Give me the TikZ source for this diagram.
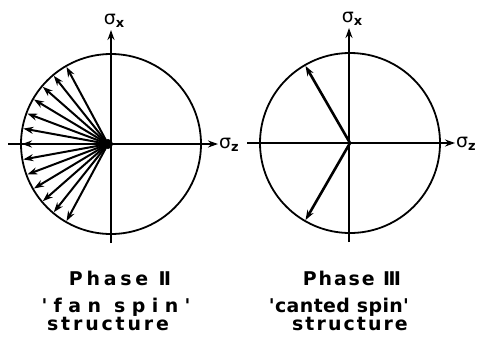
\documentclass[tikz,border=0pt]{standalone}
\usepackage{fontspec}
\setmainfont{DejaVu Sans}
\newfontfamily\lblfont{DejaVu Sans}
\newcommand{\lsp}[1]{\addfontfeatures{LetterSpace=#1}}
\usetikzlibrary{arrows.meta}
\begin{document}
\begin{tikzpicture}[x=1bp,y=-1bp,
  axis/.style={line width=2.2bp,-{Stealth[length=10bp,width=7bp]}},
  ring/.style={line width=1.8bp},
  spin/.style={line width=2bp,-{Stealth[length=10bp,width=7bp]}},
  lbl/.style={font=\lblfont\bfseries\fontsize{19}{22}\selectfont, inner sep=0, anchor=base},
  sig/.style={font=\fontsize{19}{20}\selectfont, inner sep=0}]
\useasboundingbox (0,0) rectangle (481,355);
% ---------- left diagram: fan spin ----------
\coordinate (c1) at (111,144);
\coordinate (xl1) at (8,144);
\coordinate (xr1) at (218,144);
\coordinate (yb1) at (111,243);
\coordinate (yt1) at (111,30);
\draw[ring] (c1) circle (90);
\draw[axis] (xl1) -- (xr1);
\draw[axis] (yb1) -- (yt1);
\coordinate (f1) at (108,144);
\foreach \a in {120,130,...,240}{
  \path (c1) ++(\a:89) coordinate (t\a);
  \draw[spin] (f1) -- (t\a);
}
\fill (f1) circle (5);
\node[sig, anchor=west] (sz1) at (219,145) {σ\raisebox{-0.35ex}{\fontsize{13}{13}\selectfont\bfseries z}};
\node[sig, anchor=south] (sx1) at (114,28) {σ\raisebox{-0.35ex}{\fontsize{13}{13}\selectfont\bfseries x}};
% ---------- right diagram: canted spin ----------
\coordinate (c2) at (350,143);
\coordinate (xl2) at (247,143);
\coordinate (xr2) at (455,143);
\coordinate (yb2) at (349,242);
\coordinate (yt2) at (349,28);
\draw[ring] (c2) circle (90);
\draw[axis] (xl2) -- (xr2);
\draw[axis] (yb2) -- (yt2);
\path (c2) ++(120:89) coordinate (u2);
\path (c2) ++(240:89) coordinate (d2);
\draw[spin, line width=2.6bp] (c2) -- (u2);
\draw[spin, line width=2.6bp] (c2) -- (d2);
\node[sig, anchor=west] (sz2) at (456,144) {σ\raisebox{-0.35ex}{\fontsize{13}{13}\selectfont\bfseries z}};
\node[sig, anchor=south] (sx2) at (352,26) {σ\raisebox{-0.35ex}{\fontsize{13}{13}\selectfont\bfseries x}};
% ---------- labels ----------
\node[lbl] (p2) at (120,285) {\lsp{20}Phase Ⅱ};
\node[lbl] (f2) at (116,312) {\lsp{34}'fan spin'};
\node[lbl] (s2) at (108,330) {\lsp{15}structure};
\node[lbl] (p3) at (352,285) {\lsp{10}Phase Ⅲ};
\node[lbl] (c3) at (339,312) {\lsp{2}'canted spin'};
\node[lbl] (s3) at (350,330) {\lsp{11}structure};
\end{tikzpicture}
\end{document}
